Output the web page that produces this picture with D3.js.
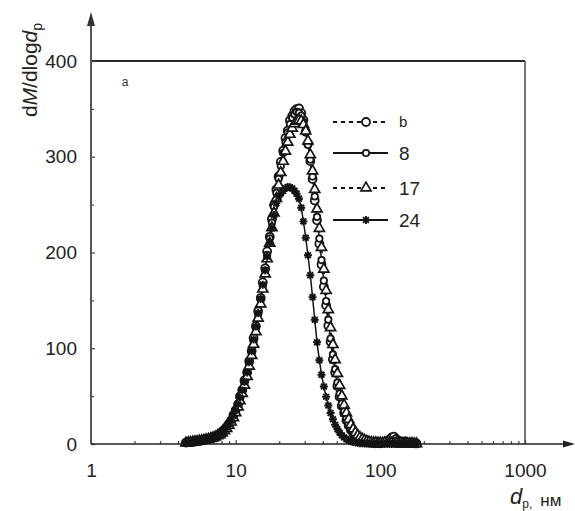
<!DOCTYPE html>
<html><head><meta charset="utf-8">
<script src="https://cdn.jsdelivr.net/npm/d3@7"></script>
<style>
html,body{margin:0;padding:0;background:#fff;}
svg{display:block;font-family:"Liberation Sans",Arial,sans-serif;}
</style></head>
<body><svg id="chart" width="575" height="511"></svg>
<script>
// particle diameter bins, nm
const diameters = [4.53,4.70,4.87,5.05,5.23,5.42,5.62,5.83,6.04,6.26,6.49,6.73,6.98,7.23,7.50,7.77,8.06,8.35,8.66,8.98,9.31,9.65,
10.0,10.4,10.7,11.1,11.5,12.0,12.4,12.9,13.3,13.8,14.3,14.9,15.4,16.0,16.5,17.2,17.8,18.4,19.1,19.8,20.5,21.3,22.1,22.9,23.7,24.6,25.5,26.4,27.4,28.4,29.4,30.5,31.6,32.8,34.0,35.2,36.5,37.9,39.2,40.7,42.2,43.7,45.3,47.0,48.7,50.5,52.3,54.2,56.2,58.3,60.4,62.6,64.9,67.3,69.8,72.3,75.0,77.7,80.6,83.5,86.6,89.8,93.1,96.5,
100,103.7,107.5,111.4,115.5,119.7,124.1,128.6,133.4,138.2,143.3,148.6,154.0,159.6,165.5,171.5,177.8];

const valuesB = [1.5,1.8,2.1,2.3,2.7,3.0, 3.4,3.9,4.3,5.0,5.4,6.3, 7.1,7.9,9.3,10.6,12.8,15.2,
17.8,21.3,24.6,30.2,35.4,41.5, 49.6,56.4,66.3,74.8,86.5,97.2, 110.5,123.1,138.6,152.4,168.8,183.5,
201.2,216.4,234.7,249.5,265.8,279.4, 294.6,306.2,319.5,327.3,337.8,342.6, 347.5,349.8,350.4,345.6,338.4,326.1,
313.7,295.4,276.8,254.3,233.6,209.2, 187.4,164.3,144.8,123.5,106.7,88.4, 74.6,60.5,49.3,39.6,32.4,24.7,
19.3,14.6,11.5,8.2,6.4,4.5, 3.4,2.5,1.9,1.4,1.2,0.9, 0.8,1.1,0.7,1.4,2.2,3.1, 4.5,6.8,7.6,5.2,3.6,2.4,
1.8,2.6,1.3,0.9,1.5,0.8,0.6];

const values8 = [1.2,1.6,1.9,2.2,2.5,2.9, 3.3,3.6,4.1,4.7,5.3,5.9, 6.8,7.6,8.8,10.1,12.2,14.5,
16.9,20.4,23.8,28.6,34.1,40.3, 47.2,55.1,63.8,73.2,84.1,95.6, 107.3,121.4,135.2,150.6,165.3,181.2,
197.6,214.8,231.2,247.9,262.4,277.1, 290.3,303.8,315.2,325.6,334.1,340.7, 344.2,346.8,345.9,343.1,336.2,325.8,
312.4,296.9,279.3,258.6,237.2,214.5, 192.1,170.6,149.3,129.8,110.2,93.5, 78.1,64.2,52.6,42.3,34.1,26.8,
20.9,16.2,12.3,9.4,7.1,5.2, 3.9,2.9,2.2,1.6,1.3,1.0, 0.8,0.7,0.9,0.6,0.8,1.2, 1.6,1.1,0.8,1.3,0.9,0.6,
0.5,0.8,0.4,0.6,0.3,0.5,0.4];

const values17 = [1.0,1.3,1.7,2.0,2.4,2.7, 3.1,3.5,3.9,4.4,5.0,5.7, 6.4,7.3,8.5,9.8,11.6,13.9,
16.2,19.5,22.9,27.4,32.6,38.6, 45.3,52.8,61.4,70.6,81.2,92.4, 104.1,117.3,131.4,146.2,161.8,177.5,
193.4,209.6,225.8,241.2,256.3,270.4, 283.5,295.2,305.8,315.1,323.4,329.8, 334.5,337.2,338.1,337.4,333.6,326.8,
316.5,302.1,285.2,265.8,245.4,225.1, 205.3,182.6,160.4,140.2,121.5,103.8, 88.1,73.6,61.2,50.1,40.6,32.5,
25.7,20.1,15.6,11.9,9.1,6.8, 5.1,3.8,2.8,2.1,1.6,1.2, 1.2,0.9,1.1,0.8,1.3,0.9, 0.7,1.0,0.6,0.8,0.5,0.7,
0.4,0.6,0.3,0.5,0.4,0.3,0.2];

const values24 = [1.1,1.4,1.8,2.1,2.5,2.8, 3.2,3.7,4.2,4.8,5.5,6.2, 7.0,8.0,9.2,10.7,12.6,15.0,
17.6,21.0,24.7,29.6,35.0,41.2, 48.3,56.0,64.9,74.6,85.3,96.8, 109.2,122.6,136.8,151.5,166.4,181.2,
195.6,210.4,225.3,239.1,251.6,258.2, 261.8,264.3,267.1,268.4,268.2,266.9, 264.5,261.3,256.2,246.8,232.5,215.4,
197.1,176.3,153.4,129.8,106.2,87.5, 72.4,60.1,49.3,40.2,32.4,25.8, 20.1,15.6,11.9,9.0,6.8,5.1,
3.8,2.8,2.1,1.6,1.2,0.9, 0.7,0.6,0.5,0.4,0.4,0.3, 0.3,0.2,0.3,0.2,0.2,0.2, 0.2,0.1,0.2,0.1,0.1,0.1,
0.1,0.1,0.1,0.1,0.1,0.1,0.1];

const seriesNames = ["b","8","17","24"];
const xTickValues = [1,10,100,1000];
const xMinorTicks = [2,3,4,5,6,7,8,9,20,30,40,50,60,70,80,90,200,300,400,500,600,700,800,900];
const yTickValues = [0,100,200,300,400];
const yMinorTicks = [50,150,250,350];

const seriesList = [
  {name:seriesNames[0], values:valuesB, dash:"4,3", marker:"circle"},
  {name:seriesNames[1], values:values8, dash:null, marker:"smallcircle"},
  {name:seriesNames[2], values:values17, dash:"4,3", marker:"triangle"},
  {name:seriesNames[3], values:values24, dash:null, marker:"star"}
];

const svg = d3.select("#chart");
const x = d3.scaleLog().domain([1,1000]).range([91,525]);
const y = d3.scaleLinear().domain([0,400]).range([444,61]);

const ink = "#141414";

function drawMarker(g, type){
  if(type==="circle"){
    g.append("circle").attr("r",4.0).attr("fill","#fff").attr("stroke",ink).attr("stroke-width",1.8);
  } else if(type==="smallcircle"){
    g.append("circle").attr("r",3.2).attr("fill","#fff").attr("stroke",ink).attr("stroke-width",1.8);
  } else if(type==="triangle"){
    g.append("path").attr("d",d3.symbol(d3.symbolTriangle,44)()).attr("fill","#fff").attr("stroke",ink).attr("stroke-width",1.7);
  } else {
    g.append("path").attr("d","M-4,0H4M0,-4V4M-2.9,-2.9L2.9,2.9M-2.9,2.9L2.9,-2.9")
      .attr("fill","none").attr("stroke",ink).attr("stroke-width",1.9);
  }
}

// frame (top and right)
svg.append("line").attr("x1",x(1)).attr("x2",x(1000)).attr("y1",y(400)).attr("y2",y(400))
  .attr("stroke","#2a2a2a").attr("stroke-width",2);
svg.append("line").attr("x1",x(1000)).attr("x2",x(1000)).attr("y1",y(400)).attr("y2",y(0))
  .attr("stroke","#555").attr("stroke-width",1.6);

// Y axis
const yAxis = svg.append("g").attr("transform",`translate(${x(1)},0)`)
  .call(d3.axisLeft(y).tickValues(yTickValues).tickSize(-4).tickPadding(14).tickFormat(d3.format("d")));
yAxis.select(".domain").remove();
yAxis.selectAll("line").attr("stroke","#444").attr("stroke-width",1.2);
yAxis.selectAll("text").attr("font-size",19).attr("fill","#222").attr("font-family","Liberation Sans, Arial, sans-serif");
const yMinor = svg.append("g").attr("transform",`translate(${x(1)},0)`)
  .call(d3.axisLeft(y).tickValues(yMinorTicks).tickSize(-3).tickFormat(""));
yMinor.select(".domain").remove();
yMinor.selectAll("line").attr("stroke","#444").attr("stroke-width",1.2);

// X axis
const xAxis = svg.append("g").attr("transform",`translate(0,${y(0)})`)
  .call(d3.axisBottom(x).tickValues(xTickValues).tickSize(-4).tickPadding(20).tickFormat(d3.format("d")));
xAxis.select(".domain").remove();
xAxis.selectAll("line").attr("stroke","#444").attr("stroke-width",1.2);
xAxis.selectAll("text").attr("font-size",19).attr("fill","#222").attr("font-family","Liberation Sans, Arial, sans-serif");
const xMinor = svg.append("g").attr("transform",`translate(0,${y(0)})`)
  .call(d3.axisBottom(x).tickValues(xMinorTicks).tickSize(-3).tickFormat(""));
xMinor.select(".domain").remove();
xMinor.selectAll("line").attr("stroke","#444").attr("stroke-width",1.2);

// axis lines with arrows
svg.append("line").attr("x1",x(1)).attr("x2",x(1)).attr("y1",y(0)).attr("y2",24)
  .attr("stroke","#555").attr("stroke-width",2);
svg.append("path").attr("d",`M${x(1)},12 L${x(1)-4},26 L${x(1)+4},26 Z`).attr("fill","#333");
svg.append("line").attr("x1",x(1)).attr("x2",566).attr("y1",y(0)).attr("y2",y(0))
  .attr("stroke","#222").attr("stroke-width",1.6);
svg.append("path").attr("d",`M575,${y(0)} L563,${y(0)-3.5} L563,${y(0)+3.5} Z`).attr("fill","#222");

// series
const line = d3.line().x((v,i)=>x(diameters[i])).y(v=>y(v));
seriesList.forEach(s=>{
  svg.append("path").datum(s.values).attr("d",line).attr("fill","none")
    .attr("stroke",ink).attr("stroke-width",1.5).attr("stroke-dasharray",s.dash);
});
seriesList.forEach(s=>{
  const g = svg.append("g");
  s.values.forEach((v,i)=>{
    const m = g.append("g").attr("transform",`translate(${x(diameters[i])},${y(v)})`);
    drawMarker(m, s.marker);
  });
});

// legend
const legendRows = [122,153,188,220];
seriesList.forEach((s,i)=>{
  const ly = legendRows[i];
  svg.append("line").attr("x1",333).attr("x2",388).attr("y1",ly).attr("y2",ly)
    .attr("stroke",ink).attr("stroke-width",1.8).attr("stroke-dasharray",s.dash ? "4,4" : null);
  const m = svg.append("g").attr("transform",`translate(366,${ly})`);
  drawMarker(m, s.marker);
  svg.append("text").attr("x",399).attr("y",ly).attr("dy","0.36em")
    .attr("font-size", s.name==="b" ? 15 : 19).attr("fill","#222").text(s.name);
});

// panel label
svg.append("text").attr("x",125).attr("y",86).attr("font-size",12).attr("text-anchor","middle").attr("fill","#333").text("a");

// y title
const yt = svg.append("text").attr("transform","translate(37,70) rotate(-90)")
  .attr("text-anchor","middle").attr("font-size",21).attr("fill","#222");
yt.append("tspan").text("d");
yt.append("tspan").attr("font-style","italic").text("M");
yt.append("tspan").text("/dlog");
yt.append("tspan").attr("font-style","italic").text("d");
yt.append("tspan").attr("font-size",14).attr("dy",5).text("p");

// x title
const xt = svg.append("text").attr("x",510).attr("y",504).attr("fill","#222");
xt.append("tspan").attr("font-style","italic").attr("font-size",22).text("d");
xt.append("tspan").attr("font-size",12).attr("dy",4).text("p,");
xt.append("tspan").attr("font-size",17).attr("dy",-2).attr("dx",8).text("нм");
</script>
</body></html>
